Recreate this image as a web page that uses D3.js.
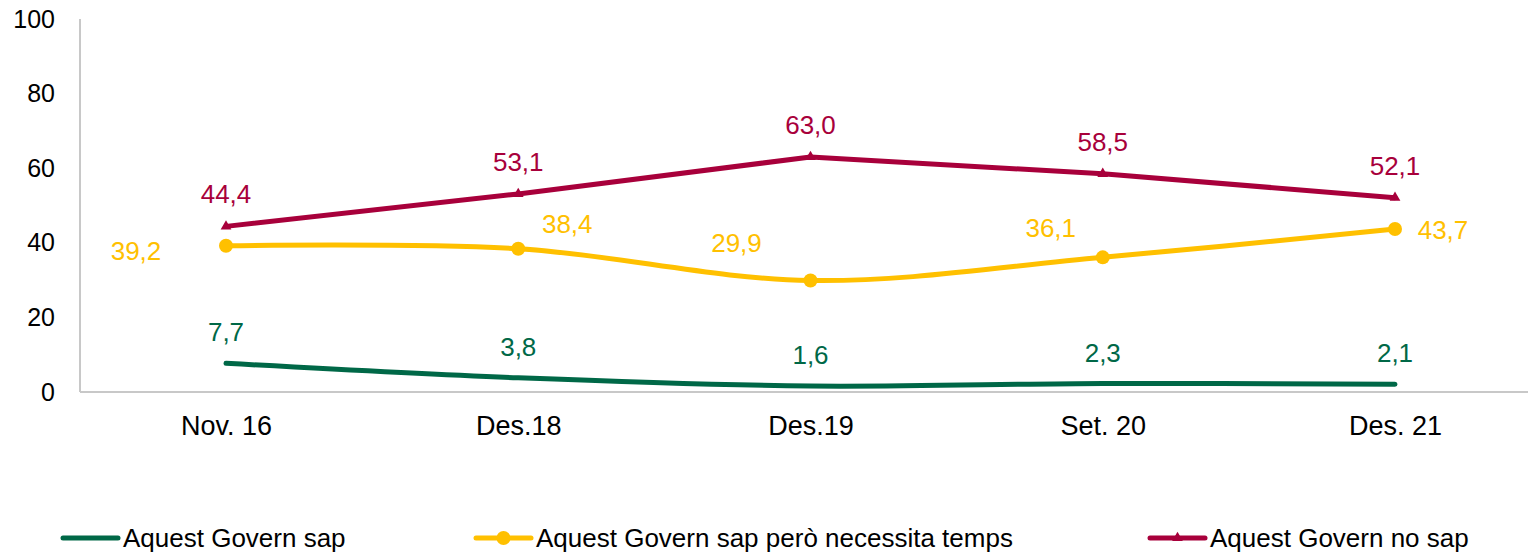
<!DOCTYPE html>
<html>
<head>
<meta charset="utf-8">
<script src="https://cdn.jsdelivr.net/npm/d3@7"></script>
<style>
  html, body { margin: 0; padding: 0; background: #fff; }
  svg { display: block; font-family: "Liberation Sans", Arial, sans-serif; }
</style>
</head>
<body>
<div id="chart"></div>
<script>
const categories = ["Nov. 16", "Des.18", "Des.19", "Set. 20", "Des. 21"];
const sapValues = [7.7, 3.8, 1.6, 2.3, 2.1];
const tempsValues = [39.2, 38.4, 29.9, 36.1, 43.7];
const noSapValues = [44.4, 53.1, 63.0, 58.5, 52.1];
const yTicks = [0, 20, 40, 60, 80, 100];

const seriesNames = [
  "Aquest Govern sap",
  "Aquest Govern sap però necessita temps",
  "Aquest Govern no sap"
];

const width = 1528;
const height = 553;
const margin = { left: 80, top: 19, bottom: 161 };

// label offsets (dx, dy from point to label center)
const greenOffsets = [[0, -31], [0, -31], [0, -31], [0, -31], [0, -31]];
const yellowOffsets = [[-90, 5], [49, -25], [-74, -38], [-52, -29], [48, 1]];
const redOffsets = [[0, -32], [0, -32], [0, -32], [0, -32], [0, -32]];

const colors = { green: "#006847", yellow: "#FFC000", red: "#A8003B" };

const svg = d3.select("#chart")
  .append("svg")
  .attr("width", width)
  .attr("height", height);

const x = d3.scalePoint()
  .domain(categories)
  .range([226, 1395]);

const y = d3.scaleLinear()
  .domain([0, 100])
  .range([height - margin.bottom, margin.top]);

// axis lines
svg.append("line")
  .attr("x1", margin.left).attr("x2", margin.left)
  .attr("y1", y(100)).attr("y2", y(0))
  .attr("stroke", "#c8c8c8").attr("stroke-width", 2);
svg.append("line")
  .attr("x1", margin.left).attr("x2", 1541)
  .attr("y1", y(0)).attr("y2", y(0))
  .attr("stroke", "#c8c8c8").attr("stroke-width", 2);

const yAxis = d3.axisLeft(y).tickValues(yTicks).tickSize(0).tickPadding(0);
svg.append("g")
  .attr("transform", "translate(55,0)")
  .call(yAxis)
  .call(g => g.select(".domain").remove())
  .selectAll("text")
  .attr("font-size", 25)
  .attr("fill", "#000")
  .attr("font-family", "Liberation Sans, Arial, sans-serif");

const xAxis = d3.axisBottom(x).tickSize(0).tickPadding(0);
svg.append("g")
  .attr("transform", "translate(0," + (y(0) + 43) + ")")
  .call(xAxis)
  .call(g => g.select(".domain").remove())
  .selectAll("text")
  .attr("y", 0)
  .attr("dy", 0)
  .attr("font-size", 27)
  .attr("fill", "#000")
  .attr("font-family", "Liberation Sans, Arial, sans-serif");

function drawSeries(values, color, curve) {
  const line = d3.line()
    .x((d, i) => x(categories[i]))
    .y(d => y(d))
    .curve(curve);
  svg.append("path")
    .datum(values)
    .attr("d", line)
    .attr("fill", "none")
    .attr("stroke", color)
    .attr("stroke-width", 5)
    .attr("stroke-linecap", "round")
    .attr("stroke-linejoin", "round");
}

drawSeries(sapValues, colors.green, d3.curveCardinal.tension(0));
drawSeries(tempsValues, colors.yellow, d3.curveCardinal.tension(0));
drawSeries(noSapValues, colors.red, d3.curveLinear);

// markers
svg.selectAll(".dot")
  .data(tempsValues)
  .enter().append("circle")
  .attr("cx", (d, i) => x(categories[i]))
  .attr("cy", d => y(d))
  .attr("r", 7)
  .attr("fill", colors.yellow);

const tri = d3.symbol().type(d3.symbolTriangle).size(50);
svg.selectAll(".tri")
  .data(noSapValues)
  .enter().append("path")
  .attr("d", tri)
  .attr("transform", (d, i) => "translate(" + x(categories[i]) + "," + y(d) + ")")
  .attr("fill", colors.red);

// data labels
const fmt = v => d3.format(".1f")(v).replace(".", ",");
function labels(values, color, offsets) {
  svg.append("g").selectAll("text")
    .data(values)
    .enter().append("text")
    .attr("x", (d, i) => x(categories[i]) + offsets[i][0])
    .attr("y", (d, i) => y(d) + offsets[i][1])
    .attr("dy", "0.35em")
    .attr("text-anchor", "middle")
    .attr("font-size", 26)
    .attr("fill", color)
    .text(fmt);
}
labels(sapValues, colors.green, greenOffsets);
labels(tempsValues, colors.yellow, yellowOffsets);
labels(noSapValues, colors.red, redOffsets);

// legend
const legendX = [63, 476, 1150];
const legendColors = [colors.green, colors.yellow, colors.red];
const legendY = 538;
const leg = svg.append("g");
seriesNames.forEach((name, i) => {
  const g = leg.append("g").attr("transform", "translate(" + legendX[i] + "," + legendY + ")");
  g.append("line")
    .attr("x1", 0).attr("x2", 55)
    .attr("stroke", legendColors[i])
    .attr("stroke-width", 5)
    .attr("stroke-linecap", "round");
  if (i === 1) {
    g.append("circle").attr("cx", 27.5).attr("r", 7).attr("fill", legendColors[i]);
  } else if (i === 2) {
    g.append("path").attr("d", tri).attr("transform", "translate(27.5,0)").attr("fill", legendColors[i]);
  }
  g.append("text")
    .attr("x", 60)
    .attr("dy", "0.35em")
    .attr("font-size", 26)
    .attr("fill", "#000")
    .text(name);
});
</script>
</body>
</html>
